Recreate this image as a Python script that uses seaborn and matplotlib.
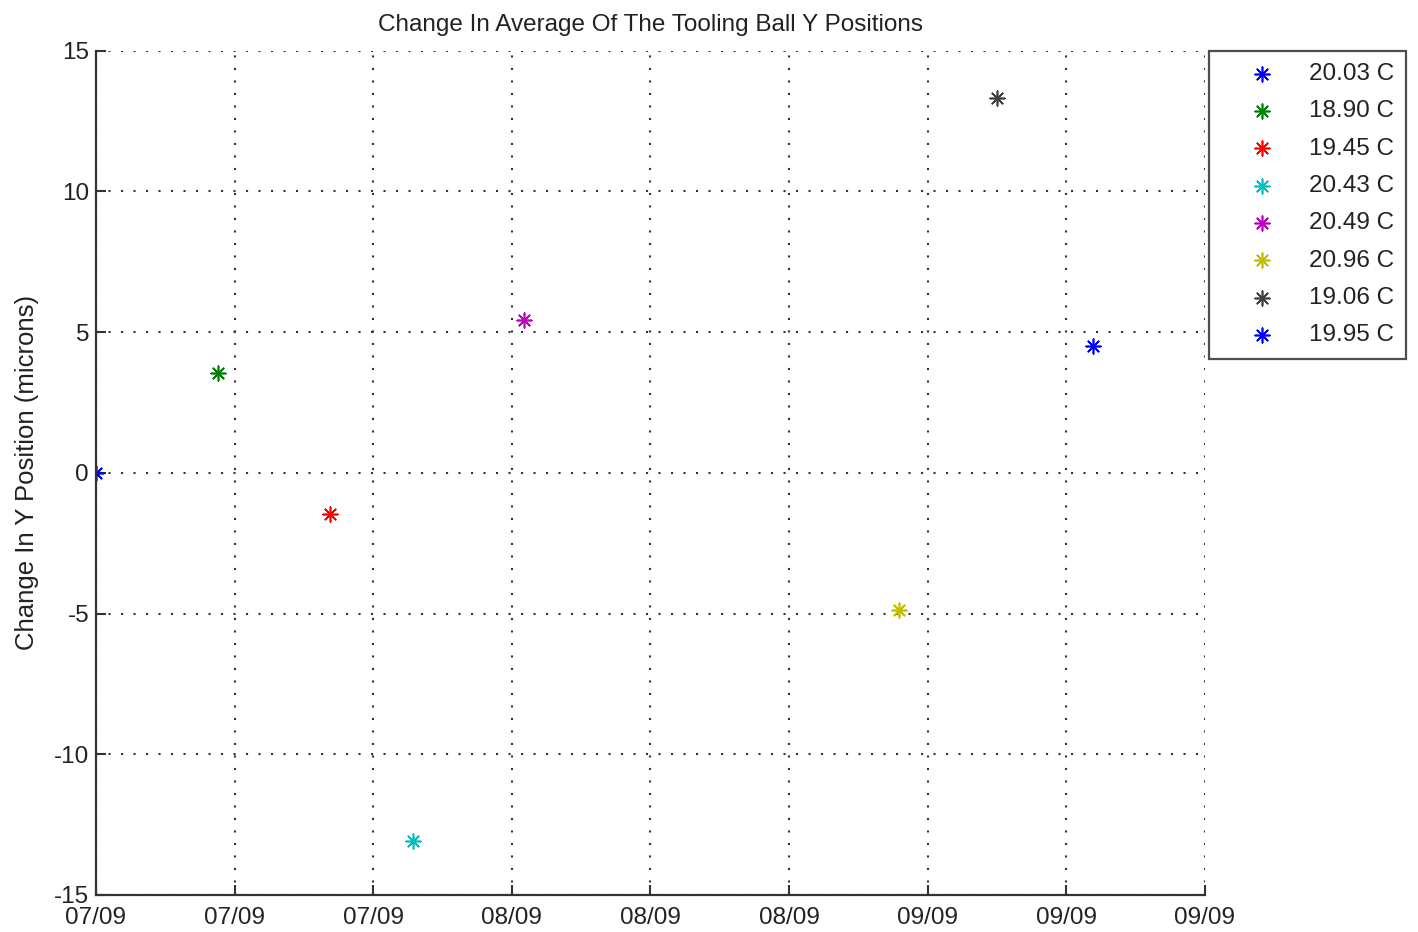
import matplotlib
matplotlib.use('Agg')
import matplotlib.pyplot as plt
import matplotlib.dates as mdates
import pandas as pd
import seaborn as sns

# measurement days after the first run, and change in mean Y position (microns)
START = pd.Timestamp('2009-07-07')
DAYS = [0.0, 8.8, 16.9, 22.9, 30.9, 57.9, 65.0, 71.9]
DELTA_Y = [0.0, 3.54, -1.47, -13.08, 5.43, -4.89, 13.33, 4.51]
TEMPS = ['20.03 C', '18.90 C', '19.45 C', '20.43 C',
         '20.49 C', '20.96 C', '19.06 C', '19.95 C']
COLORS = ['#0000ff', '#008000', '#ff0000', '#00bfbf',
          '#bf00bf', '#bfbf00', '#404040', '#0000ff']
TICK_STEP_DAYS = 10
N_TICKS = 9

sns.set_style('ticks')
plt.rcParams['font.family'] = ['Liberation Sans', 'DejaVu Sans']
plt.rcParams['axes.unicode_minus'] = False

df = pd.DataFrame({
    'date': START + pd.to_timedelta(DAYS, unit='D'),
    'dy': DELTA_Y,
    'temp': TEMPS,
})

fig = plt.figure(figsize=(14.18, 9.32), dpi=100)
ax = fig.add_axes([0.0677, 0.0397, 0.782, 0.906])

star = (8, 2, 0)
for i, row in df.iterrows():
    sns.scatterplot(x=[row['date']], y=[row['dy']], ax=ax, marker=star,
                    color=COLORS[i], s=110, linewidth=1.2, label=row['temp'],
                    legend=False)

ticks = [START + pd.Timedelta(days=TICK_STEP_DAYS * k) for k in range(N_TICKS)]
ax.set_xticks(ticks)
ax.set_xlim(ticks[0], ticks[-1])
ax.xaxis.set_major_formatter(mdates.DateFormatter('%m/%y'))
ax.set_ylim(-15, 15)
ax.set_yticks([-15, -10, -5, 0, 5, 10, 15])

ax.grid(True, linestyle=(0, (1, 5)), color='#333333', linewidth=1.5)
ax.set_axisbelow(True)
sns.despine(ax=ax)
for side in ('left', 'bottom'):
    ax.spines[side].set_color('#333333')
    ax.spines[side].set_linewidth(1.6)
ax.tick_params(direction='in', length=7, width=1.5, color='#333333',
               labelsize=17.5, labelcolor='#222222')
ax.tick_params(axis='x', pad=9)
ax.tick_params(axis='y', pad=5)

ax.set_title('Change In Average Of The Tooling Ball Y Positions',
             fontsize=17.5, color='#222222', pad=14)
ax.set_ylabel('Change In Y Position (microns)', fontsize=18.5, color='#222222',
              labelpad=11)
ax.set_xlabel('')

leg = ax.legend(loc='upper left', bbox_to_anchor=(0.8526, 0.9453),
                bbox_transform=fig.transFigure, borderaxespad=0,
                fontsize=17.5, handlelength=3.4, handletextpad=0.2,
                labelspacing=0.63, borderpad=0.5, frameon=True,
                fancybox=False, scatterpoints=1)
leg.get_frame().set_edgecolor('#222222')
leg.get_frame().set_linewidth(1.6)
for t in leg.get_texts():
    t.set_color('#222222')

fig.savefig('out.png', dpi=100)
